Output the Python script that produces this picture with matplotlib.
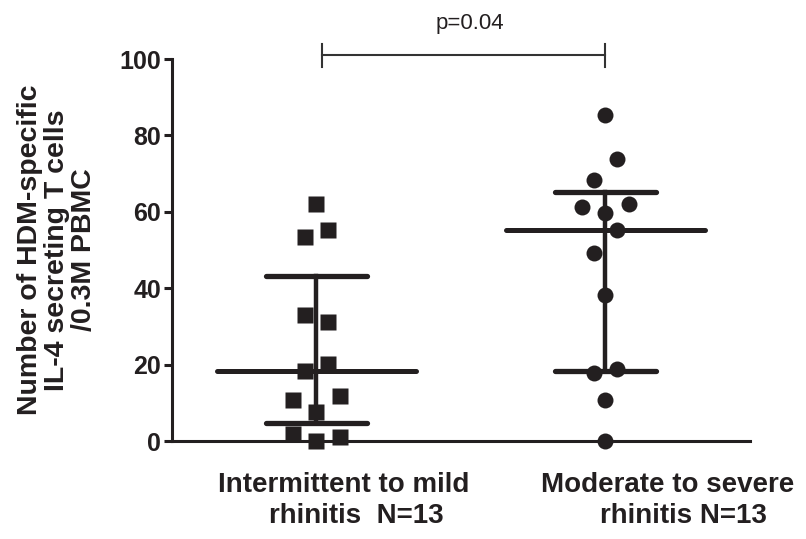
import numpy as np
import matplotlib
matplotlib.use("Agg")
import matplotlib.pyplot as plt
from matplotlib.transforms import ScaledTranslation

plt.rcParams['font.family'] = ['Liberation Sans', 'DejaVu Sans']

# values
mild = [62.0, 55.2, 53.3, 32.9, 31.2, 18.4, 20.1, 10.7, 11.8, 7.7, 1.8, 0.0, 1.0]
severe = [85.3, 73.8, 68.3, 61.2, 62.0, 59.6, 55.2, 49.3, 38.2, 17.7, 18.8, 10.7, 0.0]
# horizontal slot of each point in the scatter (layout only)
mild_slot = [0, 1, -1, -1, 1, -1, 1, -2, 2, 0, -2, 0, 2]
severe_slot = [0, 1, -1, -2, 2, 0, 1, -1, 0, -1, 1, 0, 0]
labels = ["Intermittent to mild\nrhinitis  N=13", "Moderate to severe\nrhinitis N=13"]
p_text = "p=0.04"

ink = "#231f20"
fig = plt.figure(figsize=(8.06, 5.39), dpi=100)
ax = fig.add_axes([0.2134, 0.1818, 0.7171, 0.7087])

groups = [(mild, mild_slot, "s"), (severe, severe_slot, "o")]
for i, (vals, slots, mk) in enumerate(groups):
    xc = i + 1
    vals = np.array(vals)
    xs = xc + 0.04 * np.array(slots)
    q1, med, q3 = np.percentile(vals, [25, 50, 75], method="weibull")
    ax.plot([xc - 0.345, xc + 0.345], [med, med], color=ink, lw=3.6,
            solid_capstyle="round", zorder=2)
    ax.plot([xc, xc], [q1, q3], color=ink, lw=3.2, zorder=2)
    for q in (q1, q3):
        ax.plot([xc - 0.174, xc + 0.174], [q, q], color=ink, lw=3.8,
                solid_capstyle="round", zorder=2)
    ax.plot(xs, vals, ls="none", marker=mk, ms=11.5, color=ink,
            mec="none", clip_on=False, zorder=3)

# significance bracket
ax.plot([1.02, 2.0], [101, 101], color="#333333", lw=1.5, clip_on=False)
for xb in (1.02, 2.0):
    ax.plot([xb, xb], [98, 104], color="#333333", lw=1.5, clip_on=False)
ax.text(1.53, 106.5, p_text, ha="center", va="bottom", fontsize=16,
        color=ink, clip_on=False)

ax.set_xlim(0.5, 2.5)
ax.set_ylim(0, 100)
ax.set_yticks([0, 20, 40, 60, 80, 100])
ax.set_xticks([1, 2])
ax.set_xticklabels([])

# group labels, each line nudged as in the original layout (pixels)
line_dx = [[27, 40], [62, 78]]
line_dy = [51, 82]
for i, lab in enumerate(labels):
    for j, line in enumerate(lab.split("\n")):
        off = ScaledTranslation(line_dx[i][j] / 100, -line_dy[j] / 100,
                                fig.dpi_scale_trans)
        ax.text(i + 1, 0, line, transform=ax.get_xaxis_transform() + off,
                ha="center", va="baseline", fontsize=20, fontweight="bold",
                color=ink)

ax.tick_params(axis="y", length=6, width=2.2, color=ink, labelsize=18,
               labelcolor=ink, pad=2)
ax.tick_params(axis="x", length=4, width=2.2, color=ink)
for lab in ax.get_yticklabels():
    lab.set_fontweight("bold")

for s in ("top", "right"):
    ax.spines[s].set_visible(False)
for s in ("left", "bottom"):
    ax.spines[s].set_linewidth(2.2)
    ax.spines[s].set_color(ink)

ax.set_ylabel("Number of HDM-specific\nIL-4 secreting T cells\n/0.3M PBMC",
              fontsize=20.5, fontweight="bold", color=ink, linespacing=1.05,
              labelpad=16)

fig.savefig("out.png", dpi=100)
